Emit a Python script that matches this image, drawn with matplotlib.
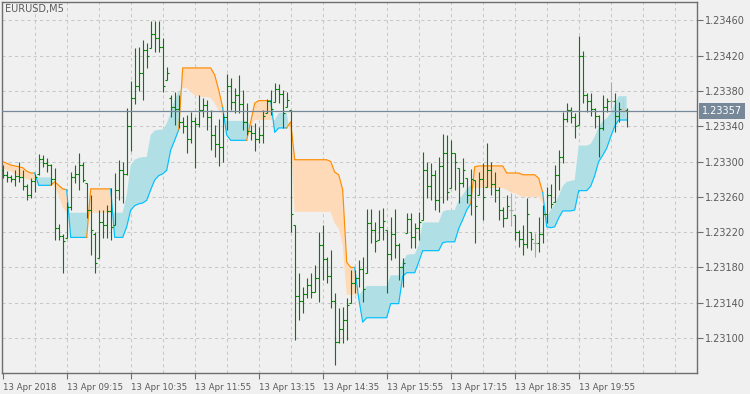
import numpy as np
import matplotlib
matplotlib.use('agg')
import matplotlib.pyplot as plt
import matplotlib.transforms as mtransforms

##### Settings
plt.rcParams['font.family'] = 'DejaVu Sans'
plt.rcParams['font.size'] = 7

##### Data: EURUSD M5 bars, 13 Apr 2018 07:55 .. 20:55
high = [1.23296, 1.23289, 1.23285, 1.23290, 1.23299, 1.23290, 1.23275, 1.23281, 1.23286, 1.23308,
        1.23307, 1.23304, 1.23297, 1.23293, 1.23229, 1.23218, 1.23254, 1.23288, 1.23296, 1.23310,
        1.23299, 1.23276, 1.23262, 1.23220, 1.23245, 1.23245, 1.23251, 1.23270, 1.23287, 1.23302,
        1.23299, 1.23361, 1.23391, 1.23429, 1.23430, 1.23438, 1.23434, 1.23459, 1.23459, 1.23459,
        1.23440, 1.23407, 1.23375, 1.23379, 1.23375, 1.23350, 1.23353, 1.23356, 1.23350, 1.23375,
        1.23372, 1.23370, 1.23358, 1.23341, 1.23348, 1.23355, 1.23399, 1.23395, 1.23383, 1.23398,
        1.23381, 1.23366, 1.23341, 1.23344, 1.23339, 1.23358, 1.23371, 1.23381, 1.23389, 1.23388,
        1.23381, 1.23379, 1.23358, 1.23228, 1.23174, 1.23158, 1.23168, 1.23174, 1.23183, 1.23220,
        1.23228, 1.23192, 1.23200, 1.23151, 1.23134, 1.23135, 1.23145, 1.23177, 1.23177, 1.23188,
        1.23192, 1.23246, 1.23246, 1.23231, 1.23245, 1.23247, 1.23222, 1.23237, 1.23246, 1.23208,
        1.23191, 1.23242, 1.23242, 1.23230, 1.23243, 1.23311, 1.23299, 1.23298, 1.23290, 1.23305,
        1.23331, 1.23330, 1.23324, 1.23310, 1.23293, 1.23304, 1.23281, 1.23292, 1.23279, 1.23288,
        1.23298, 1.23321, 1.23299, 1.23288, 1.23271, 1.23248, 1.23262, 1.23264, 1.23239, 1.23222,
        1.23228, 1.23259, 1.23220, 1.23219, 1.23237, 1.23251, 1.23271, 1.23275, 1.23296, 1.23313,
        1.23356, 1.23366, 1.23362, 1.23355, 1.23442, 1.23425, 1.23378, 1.23378, 1.23361, 1.23353,
        1.23375, 1.23372, 1.23390, 1.23378, 1.23367, 1.23372, 1.23361]
low = [1.23281, 1.23277, 1.23277, 1.23272, 1.23277, 1.23268, 1.23256, 1.23259, 1.23265, 1.23285,
       1.23294, 1.23288, 1.23273, 1.23211, 1.23211, 1.23174, 1.23213, 1.23245, 1.23276, 1.23268,
       1.23277, 1.23236, 1.23194, 1.23174, 1.23191, 1.23213, 1.23213, 1.23211, 1.23228, 1.23256,
       1.23253, 1.23285, 1.23312, 1.23365, 1.23380, 1.23370, 1.23406, 1.23429, 1.23424, 1.23424,
       1.23379, 1.23392, 1.23350, 1.23341, 1.23338, 1.23332, 1.23310, 1.23321, 1.23293, 1.23339,
       1.23350, 1.23336, 1.23313, 1.23305, 1.23295, 1.23299, 1.23336, 1.23358, 1.23355, 1.23355,
       1.23336, 1.23330, 1.23324, 1.23312, 1.23321, 1.23321, 1.23355, 1.23353, 1.23367, 1.23366,
       1.23338, 1.23362, 1.23220, 1.23098, 1.23120, 1.23128, 1.23145, 1.23145, 1.23152, 1.23141,
       1.23166, 1.23162, 1.23134, 1.23069, 1.23094, 1.23094, 1.23098, 1.23140, 1.23151, 1.23158,
       1.23141, 1.23174, 1.23208, 1.23197, 1.23211, 1.23211, 1.23151, 1.23188, 1.23191, 1.23166,
       1.23158, 1.23219, 1.23202, 1.23202, 1.23211, 1.23234, 1.23259, 1.23256, 1.23245, 1.23243,
       1.23253, 1.23256, 1.23270, 1.23268, 1.23253, 1.23271, 1.23253, 1.23239, 1.23208, 1.23262,
       1.23234, 1.23271, 1.23262, 1.23254, 1.23234, 1.23226, 1.23236, 1.23227, 1.23211, 1.23203,
       1.23194, 1.23202, 1.23200, 1.23192, 1.23197, 1.23208, 1.23230, 1.23247, 1.23254, 1.23268,
       1.23298, 1.23345, 1.23344, 1.23327, 1.23341, 1.23366, 1.23356, 1.23352, 1.23338, 1.23305,
       1.23336, 1.23356, 1.23361, 1.23333, 1.23345, 1.23350, 1.23339]
open_ = [1.23290, 1.23285, 1.23283, 1.23280, 1.23284, 1.23282, 1.23272, 1.23262, 1.23278, 1.23286,
         1.23303, 1.23298, 1.23296, 1.23280, 1.23225, 1.23216, 1.23213, 1.23248, 1.23282, 1.23286,
         1.23296, 1.23276, 1.23245, 1.23218, 1.23191, 1.23232, 1.23228, 1.23244, 1.23228, 1.23268,
         1.23290, 1.23286, 1.23340, 1.23372, 1.23385, 1.23400, 1.23426, 1.23429, 1.23445, 1.23440,
         1.23430, 1.23392, 1.23372, 1.23362, 1.23360, 1.23345, 1.23340, 1.23325, 1.23346, 1.23343,
         1.23358, 1.23364, 1.23350, 1.23330, 1.23320, 1.23316, 1.23350, 1.23385, 1.23367, 1.23375,
         1.23365, 1.23345, 1.23334, 1.23332, 1.23325, 1.23330, 1.23355, 1.23368, 1.23367, 1.23382,
         1.23376, 1.23362, 1.23358, 1.23228, 1.23148, 1.23142, 1.23150, 1.23160, 1.23152, 1.23168,
         1.23205, 1.23190, 1.23170, 1.23142, 1.23095, 1.23110, 1.23120, 1.23140, 1.23162, 1.23168,
         1.23178, 1.23174, 1.23230, 1.23222, 1.23211, 1.23226, 1.23222, 1.23195, 1.23218, 1.23205,
         1.23180, 1.23219, 1.23235, 1.23215, 1.23225, 1.23234, 1.23290, 1.23272, 1.23285, 1.23256,
         1.23295, 1.23310, 1.23270, 1.23310, 1.23293, 1.23276, 1.23281, 1.23262, 1.23279, 1.23262,
         1.23280, 1.23271, 1.23290, 1.23275, 1.23268, 1.23245, 1.23236, 1.23245, 1.23239, 1.23220,
         1.23212, 1.23206, 1.23220, 1.23208, 1.23208, 1.23218, 1.23240, 1.23262, 1.23254, 1.23285,
         1.23305, 1.23348, 1.23358, 1.23350, 1.23341, 1.23420, 1.23375, 1.23368, 1.23360, 1.23352,
         1.23338, 1.23362, 1.23368, 1.23368, 1.23352, 1.23360, 1.23358]
close = [1.23285, 1.23283, 1.23280, 1.23284, 1.23282, 1.23272, 1.23262, 1.23278, 1.23283, 1.23303,
         1.23298, 1.23296, 1.23280, 1.23225, 1.23216, 1.23210, 1.23248, 1.23282, 1.23286, 1.23296,
         1.23279, 1.23245, 1.23222, 1.23185, 1.23232, 1.23228, 1.23244, 1.23226, 1.23268, 1.23290,
         1.23286, 1.23340, 1.23372, 1.23385, 1.23400, 1.23426, 1.23420, 1.23445, 1.23440, 1.23430,
         1.23386, 1.23400, 1.23362, 1.23360, 1.23345, 1.23340, 1.23325, 1.23346, 1.23343, 1.23358,
         1.23364, 1.23350, 1.23330, 1.23320, 1.23316, 1.23350, 1.23385, 1.23367, 1.23375, 1.23365,
         1.23345, 1.23334, 1.23332, 1.23325, 1.23330, 1.23352, 1.23368, 1.23360, 1.23382, 1.23376,
         1.23355, 1.23370, 1.23240, 1.23148, 1.23142, 1.23150, 1.23160, 1.23152, 1.23168, 1.23205,
         1.23190, 1.23170, 1.23142, 1.23095, 1.23110, 1.23120, 1.23138, 1.23162, 1.23168, 1.23178,
         1.23155, 1.23230, 1.23222, 1.23210, 1.23226, 1.23233, 1.23195, 1.23218, 1.23205, 1.23180,
         1.23185, 1.23235, 1.23215, 1.23225, 1.23232, 1.23290, 1.23272, 1.23285, 1.23256, 1.23295,
         1.23310, 1.23265, 1.23310, 1.23300, 1.23276, 1.23290, 1.23262, 1.23280, 1.23250, 1.23280,
         1.23260, 1.23290, 1.23275, 1.23268, 1.23245, 1.23236, 1.23250, 1.23245, 1.23220, 1.23212,
         1.23206, 1.23240, 1.23212, 1.23208, 1.23218, 1.23240, 1.23262, 1.23252, 1.23285, 1.23305,
         1.23348, 1.23358, 1.23350, 1.23340, 1.23420, 1.23375, 1.23368, 1.23360, 1.23352, 1.23338,
         1.23362, 1.23368, 1.23368, 1.23352, 1.23360, 1.23358, 1.23357]

# indicator: drawn line and the opposite edge of its cloud
band_line = [1.23300, 1.23298, 1.23296, 1.23295, 1.23294, 1.23293, 1.23289, 1.23287, 1.23287, 1.23273,
             1.23273, 1.23273, 1.23273, 1.23277, 1.23273, 1.23269, 1.23268, 1.23214, 1.23214, 1.23214,
             1.23214, 1.23214, 1.23269, 1.23269, 1.23269, 1.23269, 1.23269, 1.23269, 1.23214, 1.23214,
             1.23214, 1.23226, 1.23245, 1.23250, 1.23252, 1.23253, 1.23256, 1.23268, 1.23279, 1.23284,
             1.23286, 1.23290, 1.23313, 1.23324, 1.23336, 1.23406, 1.23406, 1.23406, 1.23406, 1.23406,
             1.23406, 1.23406, 1.23406, 1.23398, 1.23381, 1.23361, 1.23330, 1.23324, 1.23324, 1.23324,
             1.23324, 1.23324, 1.23345, 1.23366, 1.23369, 1.23369, 1.23369, 1.23369, 1.23333, 1.23338,
             1.23338, 1.23338, 1.23345, 1.23302, 1.23302, 1.23302, 1.23302, 1.23302, 1.23302, 1.23302,
             1.23302, 1.23302, 1.23300, 1.23288, 1.23285, 1.23268, 1.23186, 1.23180, 1.23180, 1.23145,
             1.23118, 1.23123, 1.23123, 1.23123, 1.23123, 1.23123, 1.23123, 1.23139, 1.23139, 1.23139,
             1.23170, 1.23174, 1.23174, 1.23174, 1.23186, 1.23199, 1.23199, 1.23199, 1.23199, 1.23199,
             1.23208, 1.23209, 1.23209, 1.23209, 1.23224, 1.23234, 1.23245, 1.23252, 1.23294, 1.23295,
             1.23295, 1.23295, 1.23295, 1.23295, 1.23295, 1.23295, 1.23287, 1.23287, 1.23287, 1.23287,
             1.23285, 1.23285, 1.23285, 1.23285, 1.23281, 1.23265, 1.23226, 1.23225, 1.23226, 1.23236,
             1.23244, 1.23244, 1.23244, 1.23245, 1.23267, 1.23267, 1.23267, 1.23272, 1.23284, 1.23300,
             1.23307, 1.23315, 1.23328, 1.23340, 1.23347, 1.23347, 1.23347]
band_edge = [1.23293, 1.23290, 1.23289, 1.23286, 1.23284, 1.23282, 1.23280, 1.23279, 1.23279, 1.23282,
             1.23282, 1.23282, 1.23282, 1.23271, 1.23262, 1.23248, 1.23242, 1.23242, 1.23242, 1.23242,
             1.23242, 1.23242, 1.23242, 1.23242, 1.23242, 1.23242, 1.23242, 1.23242, 1.23242, 1.23242,
             1.23242, 1.23262, 1.23296, 1.23302, 1.23304, 1.23305, 1.23305, 1.23330, 1.23335, 1.23336,
             1.23336, 1.23343, 1.23355, 1.23370, 1.23379, 1.23383, 1.23383, 1.23379, 1.23375, 1.23374,
             1.23373, 1.23373, 1.23372, 1.23366, 1.23358, 1.23353, 1.23346, 1.23346, 1.23346, 1.23346,
             1.23346, 1.23346, 1.23340, 1.23347, 1.23347, 1.23347, 1.23347, 1.23347, 1.23347, 1.23355,
             1.23355, 1.23355, 1.23328, 1.23243, 1.23243, 1.23243, 1.23243, 1.23243, 1.23243, 1.23243,
             1.23243, 1.23243, 1.23243, 1.23230, 1.23224, 1.23205, 1.23149, 1.23149, 1.23149, 1.23148,
             1.23154, 1.23159, 1.23159, 1.23159, 1.23159, 1.23159, 1.23159, 1.23171, 1.23171, 1.23171,
             1.23186, 1.23194, 1.23195, 1.23195, 1.23205, 1.23231, 1.23231, 1.23231, 1.23231, 1.23231,
             1.23243, 1.23245, 1.23245, 1.23245, 1.23256, 1.23262, 1.23269, 1.23273, 1.23270, 1.23270,
             1.23270, 1.23270, 1.23270, 1.23270, 1.23270, 1.23270, 1.23268, 1.23265, 1.23264, 1.23262,
             1.23260, 1.23260, 1.23260, 1.23260, 1.23260, 1.23253, 1.23237, 1.23245, 1.23251, 1.23261,
             1.23272, 1.23277, 1.23278, 1.23279, 1.23318, 1.23318, 1.23318, 1.23320, 1.23328, 1.23339,
             1.23346, 1.23349, 1.23355, 1.23365, 1.23374, 1.23374, 1.23374]

bid = 1.23357
pink_bar = 155
time_labels = ['13 Apr 2018', '13 Apr 09:15', '13 Apr 10:35', '13 Apr 11:55', '13 Apr 13:15',
               '13 Apr 14:35', '13 Apr 15:55', '13 Apr 17:15', '13 Apr 18:35', '13 Apr 19:55']
price_ticks = [1.23100, 1.23140, 1.23180, 1.23220, 1.23260, 1.23300, 1.23340, 1.23380, 1.23420, 1.23460]

##### Colours
bg = '#f0f0f0'
frame_c = '#6e6e6e'
txt_c = '#5a5a5a'
grid_c = '#c8c8c8'
bar_green = '#008000'
doji_c = '#a8a8a8'
pink_c = '#f4b8b8'
orange = '#ff8c00'
peach = '#ffdab9'
sky = '#00bfff'
powder = '#b0e0e6'
bid_c = '#778899'

#############################################################################
##### Plotting
n = len(high)
x = np.arange(n)
line = np.array(band_line)
edge = np.array(band_edge)

fig = plt.figure(figsize=(7.5, 3.94), dpi=100, facecolor=bg)
ax = fig.add_axes([2/750., 21/394., 695/750., 371/394.])
ax.set_facecolor(bg)
ax.set_xlim(-0.175, 173.575)
ax.set_ylim(1.230604, 1.234807)

# grid
for k in range(8, 174, 8):
    ax.axvline(k, color=grid_c, lw=0.75, ls=(0, (3, 3)), zorder=0)
for p in price_ticks:
    ax.axhline(p, color=grid_c, lw=0.75, ls=(0, (3, 3)), zorder=0)

# cloud
down = line > edge
ax.fill_between(x, line, edge, where=down, interpolate=True, color=peach, lw=0, zorder=1)
ax.fill_between(x, line, edge, where=~down, interpolate=True, color=powder, lw=0, zorder=1)

# coloured line, each segment joined to the previous bar
start = 0
for i in range(1, n + 1):
    if i == n or down[i] != down[start]:
        a = max(start - 1, 0)
        ax.plot(x[a:i], line[a:i], color=orange if down[start] else sky, lw=0.85, zorder=2)
        start = i

# OHLC bars
bar_c = [doji_c if o == c else bar_green for o, c in zip(open_, close)]
bar_c[pink_bar] = pink_c
ax.vlines(x, low, high, colors=bar_c, lw=0.8, zorder=3)
ax.hlines(open_, x - 0.5, x, colors=bar_c, lw=0.8, zorder=3)
ax.hlines(close, x, x + 0.5, colors=bar_c, lw=0.8, zorder=3)

# bid line
ax.axhline(bid, color=bid_c, lw=0.9, zorder=4)

# axes
ax.yaxis.tick_right()
ax.set_yticks(price_ticks)
ax.set_yticklabels(['%.5f' % p for p in price_ticks])
ax.set_xticks(np.arange(0, n, 16))
ax.set_xticklabels(time_labels, ha='left')
ax.tick_params(colors=frame_c, labelcolor=txt_c, length=4, width=0.8, labelsize=7, pad=2)
ax.tick_params(axis='x', labelsize=6.2, pad=3)
for s in ax.spines.values():
    s.set_color(frame_c)
    s.set_linewidth(1.0)

trans = mtransforms.blended_transform_factory(ax.transAxes, ax.transData)
ax.text(1.0065, bid, '%.5f' % bid, transform=trans, ha='left', va='center', color='white',
        fontsize=7, clip_on=False, zorder=5,
        bbox=dict(boxstyle='square,pad=0.3', fc=bid_c, ec='none'))

fig.text(5/750., 1 - 9/394., 'EURUSD,M5', ha='left', va='center', color=txt_c, fontsize=7)

plt.savefig('out.png', dpi=100, facecolor=bg)
